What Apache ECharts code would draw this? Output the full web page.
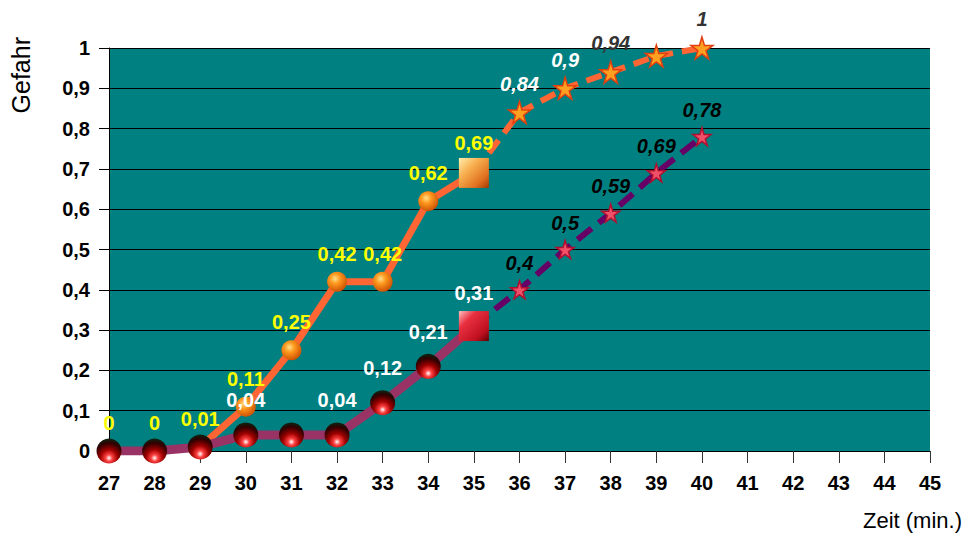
<!DOCTYPE html>
<html>
<head>
<meta charset="UTF-8">
<title>Gefahr</title>
<script src="https://cdn.jsdelivr.net/npm/echarts@6/dist/echarts.min.js"></script>
<style>
  html, body { margin: 0; padding: 0; background: #fff; }
  #main { width: 965px; height: 536px; }
</style>
</head>
<body>
<div id="main"></div>
<script type="text/javascript">
// Zeit (min.) auf der x-Achse
var solidMinutes = [27, 28, 29, 30, 31, 32, 33, 34, 35];
var dashMinutes = [35, 36, 37, 38, 39, 40];

// obere Kurve (orange)
var orangeSolid = [0, 0, 0.01, 0.11, 0.25, 0.42, 0.42, 0.62, 0.69];
var orangeDashed = [0.69, 0.84, 0.9, 0.94, 0.98, 1];

// untere Kurve (violett)
var maroonSolid = [0, 0, 0.01, 0.04, 0.04, 0.04, 0.12, 0.21, 0.31];
var purpleDashed = [0.31, 0.4, 0.5, 0.59, 0.69, 0.78];

// welche Punkte beschriftet sind
var maroonLabelIdx = [3, 5, 6, 7, 8];
var orangeDashLabelColor = [null, '#ffffff', '#ffffff', '#333333', null, '#333333'];

function komma(v) { return String(v).replace('.', ','); }

var star = 'path://M50,0 L61,35 L98,35 L68,57 L79,91 L50,70 L21,91 L32,57 L2,35 L39,35 Z';

var orangeBall = new echarts.graphic.RadialGradient(0.4, 0.35, 0.7, [
  { offset: 0, color: '#ffe08a' },
  { offset: 0.35, color: '#ff9a20' },
  { offset: 1, color: '#c84a00' }
]);
// dunkle Kugel mit rotem Schein unten
var darkBall = new echarts.graphic.RadialGradient(0.5, 0.78, 0.75, [
  { offset: 0, color: '#ffffff' },
  { offset: 0.18, color: '#ff4040' },
  { offset: 0.45, color: '#a00000' },
  { offset: 0.8, color: '#300000' },
  { offset: 1, color: '#102010' }
]);
var orangeSquare = new echarts.graphic.LinearGradient(0, 0, 1, 1, [
  { offset: 0, color: '#fff0b0' },
  { offset: 0.35, color: '#f8b050' },
  { offset: 0.75, color: '#e07020' },
  { offset: 1, color: '#a03800' }
]);
var redSquare = new echarts.graphic.LinearGradient(0, 0, 1, 1, [
  { offset: 0, color: '#ffc0c0' },
  { offset: 0.3, color: '#e83040' },
  { offset: 0.75, color: '#c01020' },
  { offset: 1, color: '#600000' }
]);

var fam = 'Liberation Sans, Arial, sans-serif';

var orangeSolidData = solidMinutes.map(function (m, i) {
  var last = i === solidMinutes.length - 1;
  return {
    value: [m, orangeSolid[i]],
    symbol: last ? 'rect' : 'circle',
    symbolSize: last ? 30 : 20,
    itemStyle: { color: last ? orangeSquare : orangeBall },
    label: { distance: last ? 5 : 8 }
  };
});

var maroonSolidData = solidMinutes.map(function (m, i) {
  var last = i === solidMinutes.length - 1;
  return {
    value: [m, maroonSolid[i]],
    symbol: last ? 'rect' : 'circle',
    symbolSize: last ? 30 : 25,
    itemStyle: { color: last ? redSquare : darkBall },
    label: { show: maroonLabelIdx.indexOf(i) >= 0, distance: last ? 8 : 12 }
  };
});

var orangeDashedData = dashMinutes.map(function (m, i) {
  return {
    value: [m, orangeDashed[i]],
    symbol: i === 0 ? 'none' : star,
    label: { show: orangeDashLabelColor[i] !== null && i > 0, color: orangeDashLabelColor[i] || '#333' }
  };
});

var purpleDashedData = dashMinutes.map(function (m, i) {
  return {
    value: [m, purpleDashed[i]],
    symbol: i === 0 ? 'none' : star,
    label: { show: i > 0 }
  };
});

var myChart = echarts.init(document.getElementById('main'), null, { renderer: 'svg' });

var option = {
  animation: false,
  backgroundColor: '#ffffff',
  grid: {
    left: 109, right: 35, top: 48, bottom: 85,
    show: true, backgroundColor: '#008080', borderWidth: 0
  },
  xAxis: {
    type: 'value', min: 27, max: 45, interval: 1,
    axisLine: { show: true, lineStyle: { color: '#000', width: 1 } },
    axisTick: { show: true, length: 12, lineStyle: { color: '#333' } },
    splitLine: { show: false },
    axisLabel: { margin: 22, color: '#000', fontFamily: fam, fontSize: 20, fontWeight: 'bold' }
  },
  yAxis: {
    type: 'value', min: 0, max: 1, interval: 0.1,
    axisLine: { show: true, lineStyle: { color: '#000', width: 1 } },
    axisTick: { show: true, length: 10, lineStyle: { color: '#000' } },
    splitLine: { show: true, lineStyle: { color: '#000', width: 1 } },
    axisLabel: {
      margin: 19, color: '#000', fontFamily: fam, fontSize: 20, fontWeight: 'bold',
      formatter: function (v) { return komma(Math.round(v * 10) / 10); }
    }
  },
  graphic: [
    {
      type: 'text', left: 8, top: 37, rotation: Math.PI / 2,
      style: { text: 'Gefahr', fill: '#000', font: '25px Liberation Sans, Arial, sans-serif' }
    },
    {
      type: 'text', right: 3, top: 509,
      style: { text: 'Zeit (min.)', fill: '#000', font: '22px Liberation Sans, Arial, sans-serif' }
    }
  ],
  series: [
    {
      name: 'oben',
      type: 'line',
      data: orangeSolidData,
      z: 2,
      lineStyle: { color: '#ff6633', width: 7 },
      label: {
        show: true, position: 'top', color: '#ffff00',
        fontFamily: fam, fontSize: 20, fontWeight: 'bold',
        formatter: function (p) { return komma(p.value[1]); }
      }
    },
    {
      name: 'oben (Prognose)',
      type: 'line',
      data: orangeDashedData,
      z: 2,
      symbolSize: 22,
      lineStyle: { color: '#ff6633', width: 6, type: [16, 9] },
      itemStyle: { color: '#ffa020', borderColor: '#e04010', borderWidth: 1.5 },
      label: {
        position: 'top', distance: 7,
        fontFamily: fam, fontSize: 20, fontWeight: 'bold', fontStyle: 'italic',
        formatter: function (p) { return komma(p.value[1]); }
      }
    },
    {
      name: 'unten',
      type: 'line',
      data: maroonSolidData,
      z: 3,
      lineStyle: { color: '#993366', width: 9 },
      label: {
        position: 'top', color: '#ffffff',
        fontFamily: fam, fontSize: 20, fontWeight: 'bold',
        formatter: function (p) { return komma(p.value[1]); }
      }
    },
    {
      name: 'unten (Prognose)',
      type: 'line',
      data: purpleDashedData,
      z: 3,
      symbolSize: 18,
      lineStyle: { color: '#660066', width: 6, type: [18, 9] },
      itemStyle: { color: '#f05068', borderColor: '#b01030', borderWidth: 1.5 },
      label: {
        position: 'top', distance: 7, color: '#000',
        fontFamily: fam, fontSize: 20, fontWeight: 'bold', fontStyle: 'italic',
        formatter: function (p) { return komma(p.value[1]); }
      }
    }
  ]
};

myChart.setOption(option);
</script>
</body>
</html>
